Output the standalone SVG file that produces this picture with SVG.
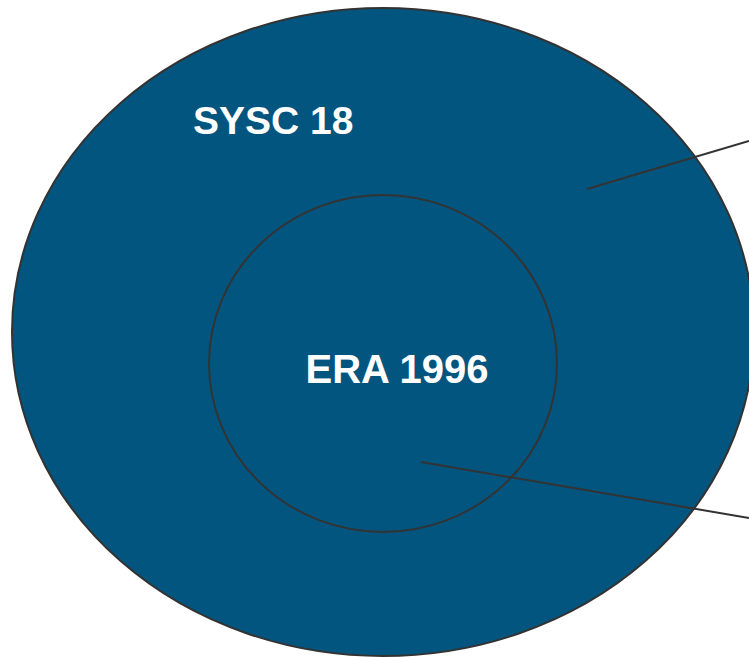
<svg xmlns="http://www.w3.org/2000/svg" width="749" height="658" viewBox="0 0 749 658">
<style>
.shape{fill:#02557f;stroke:#333333;stroke-width:2}
.ring{fill:none;stroke:#333333;stroke-width:2}
.lbl{font-family:"Liberation Sans",Arial,sans-serif;font-weight:bold;fill:#ffffff}
.conn{stroke:#333333;stroke-width:2;fill:none}
</style>
<rect width="749" height="658" fill="#ffffff"/>
<g id="sysc18">
<ellipse class="shape" cx="383" cy="332" rx="371" ry="324"/>
<text class="lbl" x="193" y="134" font-size="39">SYSC 18</text>
</g>
<g id="era1996">
<ellipse class="ring" cx="383" cy="363.5" rx="174" ry="168.5"/>
<text class="lbl" x="397" y="383" font-size="40" text-anchor="middle">ERA 1996</text>
</g>
<g id="connectors">
<line class="conn" x1="587" y1="189" x2="749" y2="141"/>
<line class="conn" x1="421" y1="462" x2="749" y2="518"/>
</g>
</svg>
